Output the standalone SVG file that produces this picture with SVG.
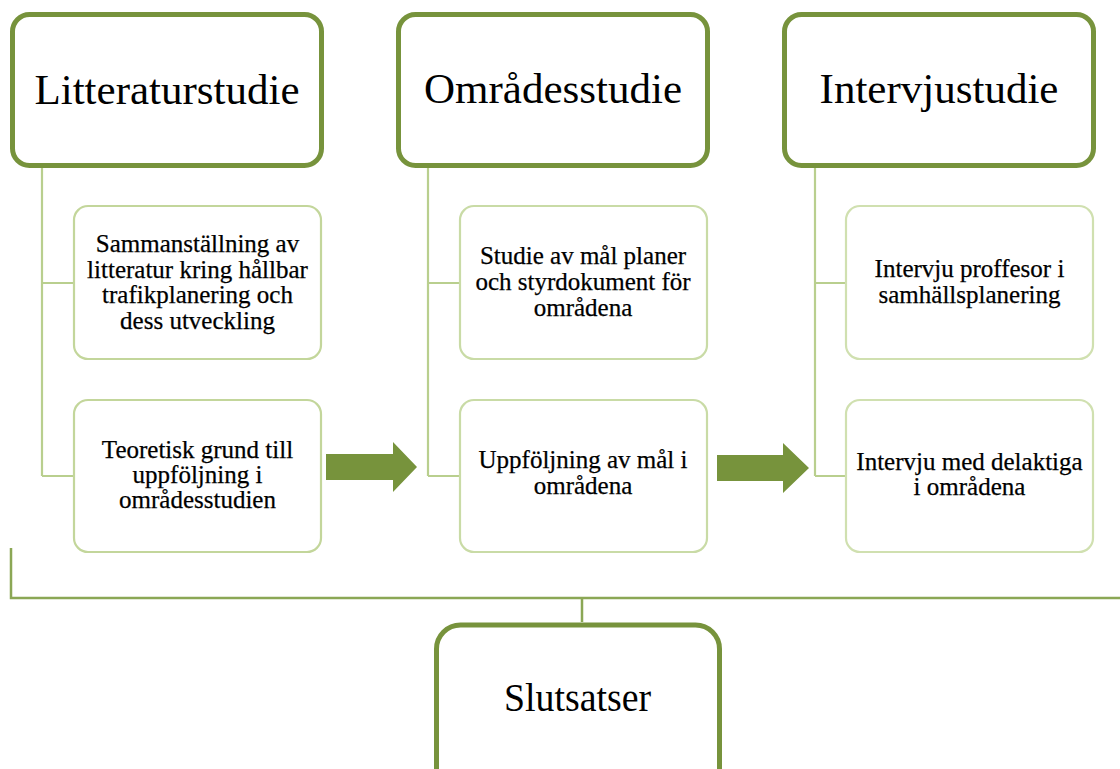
<svg xmlns="http://www.w3.org/2000/svg" width="1120" height="769" viewBox="0 0 1120 769">
<style>
.main{fill:#fff;stroke:#77933C;stroke-width:5}
.sub{fill:#fff;stroke:#C3D69B;stroke-width:2.2}
.sub2{fill:#fff;stroke:#C9DBA6;stroke-width:2.2}
.sub3{fill:#fff;stroke:#D0E0B0;stroke-width:2.2}
.conn{fill:none;stroke:#B9CF8E;stroke-width:2.2}
.bus{fill:none;stroke:#8BA755;stroke-width:2.5}
.arrow{fill:#77933C}
.t1{font-family:"Liberation Serif","Times New Roman",serif;font-size:43px;fill:#000;text-anchor:middle}
.t2{font-family:"Liberation Serif","Times New Roman",serif;font-size:25px;fill:#000;text-anchor:middle;stroke:#000;stroke-width:0.25}
</style>
<rect width="1120" height="769" fill="#fff"/>
<g id="connectors">
<path class="conn" d="M42,168 V476 M42,283 H74 M42,476 H74"/>
<path class="conn" d="M428,168 V476 M428,283 H460 M428,476 H460"/>
<path class="conn" d="M815,168 V476 M815,283 H846 M815,476 H846"/>
<path class="bus" d="M11,548 V598 H1120 M582,598 V622"/>
<polygon class="arrow" points="326,454 393,454 393,442 417,467 393,492 393,480 326,480"/>
<polygon class="arrow" points="717,455 783,455 783,443 809,468 783,493 783,481 717,481"/>
</g>
<g id="litteraturstudie">
<rect class="main" x="12.5" y="14.5" width="309" height="151" rx="17"/>
<text class="t1" x="167" y="104">Litteraturstudie</text>
</g>
<g id="omradesstudie">
<rect class="main" x="398.5" y="14.5" width="309" height="151" rx="17"/>
<text class="t1" x="553" y="103">Områdesstudie</text>
</g>
<g id="intervjustudie">
<rect class="main" x="784.5" y="14.5" width="309" height="151" rx="17"/>
<text class="t1" x="939" y="103">Intervjustudie</text>
</g>
<g id="sammanstallning">
<rect class="sub" x="74" y="206" width="247" height="153" rx="14"/>
<text class="t2" x="197.5" y="252">Sammanställning av</text>
<text class="t2" x="197.5" y="277.5">litteratur kring hållbar</text>
<text class="t2" x="197.5" y="303">trafikplanering och</text>
<text class="t2" x="197.5" y="328.5">dess utveckling</text>
</g>
<g id="teoretisk">
<rect class="sub" x="74" y="400" width="247" height="152" rx="14"/>
<text class="t2" x="197.5" y="458">Teoretisk grund till</text>
<text class="t2" x="197.5" y="483">uppföljning i</text>
<text class="t2" x="197.5" y="508">områdesstudien</text>
</g>
<g id="studie">
<rect class="sub2" x="460" y="206" width="247" height="153" rx="14"/>
<text class="t2" x="583" y="264">Studie av mål planer</text>
<text class="t2" x="583" y="290">och styrdokument för</text>
<text class="t2" x="583" y="316">områdena</text>
</g>
<g id="uppfoljning">
<rect class="sub2" x="460" y="400" width="247" height="152" rx="14"/>
<text class="t2" x="583" y="468">Uppföljning av mål i</text>
<text class="t2" x="583" y="494">områdena</text>
</g>
<g id="intervju-proffesor">
<rect class="sub3" x="846" y="206" width="247" height="153" rx="14"/>
<text class="t2" x="969.5" y="277">Intervju proffesor i</text>
<text class="t2" x="969.5" y="303">samhällsplanering</text>
</g>
<g id="intervju-delaktiga">
<rect class="sub3" x="846" y="400" width="247" height="152" rx="14"/>
<text class="t2" x="969.5" y="470">Intervju med delaktiga</text>
<text class="t2" x="969.5" y="495">i områdena</text>
</g>
<g id="slutsatser">
<rect class="main" x="436.5" y="625" width="283" height="170" rx="24"/>
<text class="t1" x="577.5" y="711" textLength="147" lengthAdjust="spacingAndGlyphs" style="font-size:40px">Slutsatser</text>
</g>
</svg>
